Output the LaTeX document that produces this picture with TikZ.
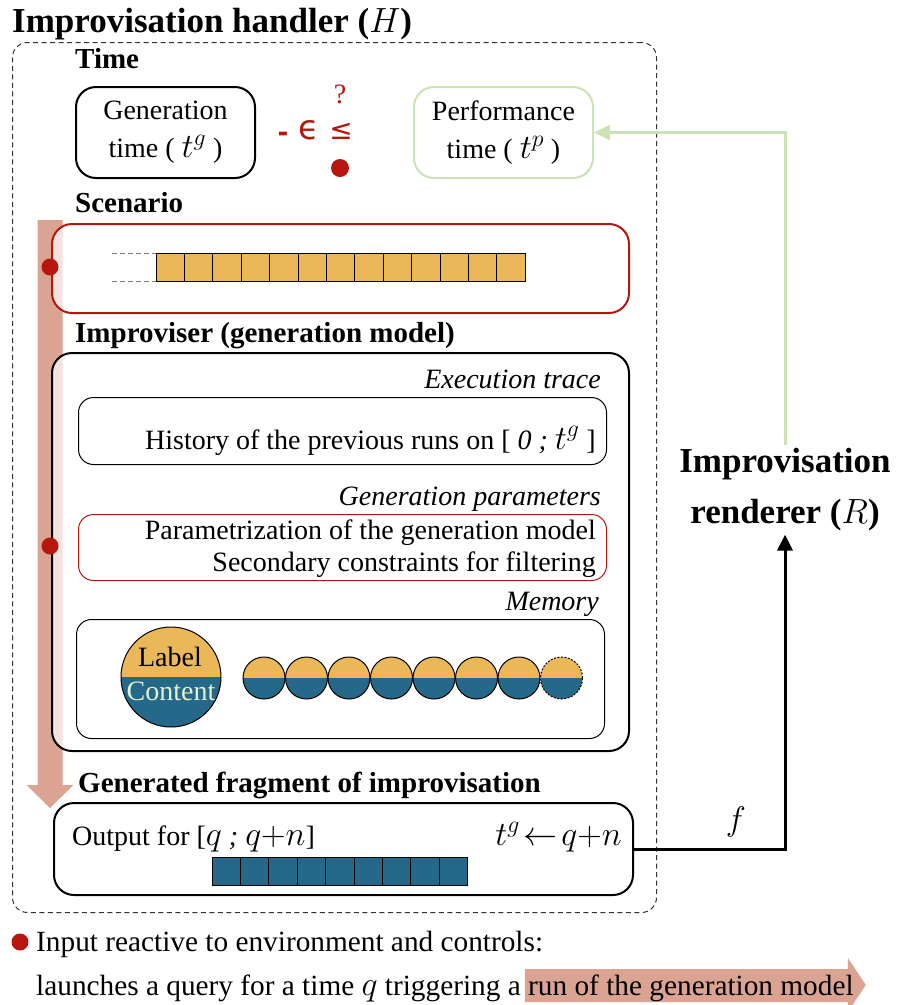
\RequirePackage{fix-cm}
\documentclass[tikz,border=0pt]{standalone}
\usepackage{amssymb}
\usepackage{fontspec}
\setmainfont{Liberation Serif}
\newfontfamily\symfont{DejaVu Sans}
\usetikzlibrary{arrows.meta}
\pgfdeclarelayer{background}
\pgfsetlayers{background,main}
\definecolor{myred}{HTML}{B5170E}
\definecolor{myorange}{HTML}{EAB859}
\definecolor{myblue}{HTML}{266889}
\definecolor{mypink}{HTML}{DBA492}
\definecolor{mygreen}{HTML}{CCE3B8}
\definecolor{mycream}{HTML}{E2F2CF}
\newcommand{\mathbig}[1]{{\fontsize{34}{38}\selectfont\(#1\)}}
\tikzset{
  body/.style={font=\fontsize{28}{38}\selectfont, inner sep=0pt},
  legend/.style={font=\fontsize{29.3}{38}\selectfont, inner sep=0pt, anchor=base west},
  sectlabel/.style={font=\fontsize{29}{34}\selectfont\bfseries, inner sep=0pt, anchor=base west},
  boxlabel/.style={font=\fontsize{28}{34}\selectfont\itshape, inner sep=0pt, anchor=base east},
  bigtitle/.style={font=\fontsize{35}{51}\selectfont\bfseries, inner sep=0pt},
  thickbox/.style={draw, line width=2pt, rounded corners=20pt, anchor=north west, inner sep=0pt},
  thinbox/.style={draw, line width=1pt, rounded corners=15pt, anchor=north west, inner sep=0pt},
  reddot/.style={fill=myred, circle, inner sep=0pt, minimum size=17pt},
  redsym/.style={text=myred, inner sep=0pt},
  cellorange/.style={draw, line width=0.8pt, fill=myorange},
  cellblue/.style={draw, line width=0.8pt, fill=myblue},
  halfcirc/.style={circle, draw, line width=1pt, inner sep=0pt,
    path picture={
      \fill[myorange] (path picture bounding box.north west) rectangle (path picture bounding box.east);
      \fill[myblue] (path picture bounding box.west) rectangle (path picture bounding box.south east);
    }},
}
\begin{document}
\begin{tikzpicture}[x=1pt,y=-1pt]
\useasboundingbox (0,0) rectangle (898,1005);

% big pink arrow (run of the generation model)
\begin{pgfonlayer}{background}
\fill[mypink] (37.5,220) -- (62.5,220) -- (62.5,785) -- (73.5,785) -- (50,808) -- (26.5,785) -- (37.5,785) -- cycle;
\end{pgfonlayer}

% title and handler frame
\node[bigtitle, anchor=base west] (title) at (12,32) {Improvisation handler (\(H\))};
\node[draw=black!80, line width=1pt, dash pattern=on 5pt off 3.5pt, rounded corners=15pt, anchor=north west, minimum width=644pt, minimum height=870pt, inner sep=0pt] (handler) at (12,42) {};

% Time
\node[sectlabel] (timelbl) at (75,68) {Time};
\node[thickbox, fill=white, minimum width=179pt, minimum height=91pt, align=center, body] (gen) at (75,86) {Generation\\time ( \mathbig{t^{g}} )};
\node[thickbox, draw=mygreen, fill=white, minimum width=179pt, minimum height=91pt, align=center, body] (perf) at (413,86) {Performance\\time ( \mathbig{t^{p}} )};
\node[redsym, font=\symfont\bfseries\fontsize{26}{30}\selectfont, anchor=base] (minus) at (283,141) {-};
\node[redsym, font=\symfont\fontsize{34}{40}\selectfont] (eps) at (309,130) {ϵ};
\node[redsym, font=\symfont\fontsize{28}{30}\selectfont] (leq) at (341,131) {≤};
\node[redsym, font=\fontsize{28}{30}\selectfont] (qmark) at (340,94) {?};
\node[reddot, minimum size=18pt] (timedot) at (340,168) {};

% Scenario
\node[sectlabel] (scenlbl) at (75,212) {Scenario};
\node[thickbox, draw=myred, fill=white, fill opacity=0.7, minimum width=577pt, minimum height=89pt] (scen) at (51,223) {};
\foreach \i in {0,...,12} {
  \draw[cellorange] ({156+28.4*\i},253) rectangle ++(28.4,28);
}
\draw[gray, line width=1pt, dash pattern=on 5pt off 3pt] (112,253) -- (156,253);
\draw[gray, line width=1pt, dash pattern=on 5pt off 3pt] (112,281) -- (156,281);
\node[reddot] (scendot) at (50,267) {};

% Improviser
\node[sectlabel] (implbl) at (75,342) {Improviser (generation model)};
\node[thickbox, fill=white, fill opacity=0.7, minimum width=577pt, minimum height=398pt] (imp) at (51,352) {};

\node[boxlabel] (exlbl) at (601,388) {Execution trace};
\node[thinbox, minimum width=528pt, minimum height=67pt] (hist) at (78,397) {};
\node[body, anchor=base east] (histtxt) at (596,449) {History of the previous runs on [ \textit{0 ;} \mathbig{t^{g}} ]};

\node[boxlabel] (gplbl) at (601,505) {Generation parameters};
\node[thinbox, draw=myred, minimum width=528pt, minimum height=66pt] (params) at (78,514) {};
\node[body, anchor=base east] (p1) at (596,539) {Parametrization of the generation model};
\node[body, anchor=base east] (p2) at (596,571) {Secondary constraints for filtering};
\node[reddot] (pardot) at (50,546) {};

\node[boxlabel] (memlbl) at (599,610) {Memory};
\node[thinbox, minimum width=528pt, minimum height=119pt] (mem) at (76,619) {};
\node[halfcirc, minimum size=100pt] (bigc) at (171,677) {};
\node[body] (lbl) at (170,657) {Label};
\node[body, text=mycream] (cont) at (171,691) {Content};
\foreach \i in {0,...,6} {
  \node[halfcirc, minimum size=42pt] (m\i) at ({264+42.5*\i},678) {};
}
\node[halfcirc, minimum size=42pt, dash pattern=on 2pt off 1.5pt] (m7) at ({264+42.5*7},678) {};

% Generated fragment
\node[sectlabel] (genlbl) at (78,792) {Generated fragment of improvisation};
\node[thickbox, fill=white, minimum width=579pt, minimum height=92pt] (out) at (53,802) {};
\node[body, anchor=base west] (outtxt) at (72,845) {Output for [\mathbig{q} \textit{;} \mathbig{q{+}n}]};
\node[body, anchor=base east] (tgq) at (622,845) {\mathbig{t^{g}\!\leftarrow\! q{+}n}};
\foreach \i in {0,...,8} {
  \draw[cellblue] ({212+28.4*\i},857) rectangle ++(28.4,28);
}

% Renderer
\node[bigtitle, align=center, inner sep=3pt] (rend) at (785,490) {Improvisation\\renderer (\(R\))};
\draw[mygreen, line width=3pt, -{Triangle[length=16pt,width=15pt]}] (rend.north) |- (perf.east);
\draw[line width=3pt, -{Triangle[length=16pt,width=15pt]}] (out.east) -| (rend.south);
\node[font=\fontsize{34}{36}\selectfont, inner sep=0pt] (flbl) at (736,822) {\(f\)};

% Legend
\node[reddot] (legdot) at (20,942) {};
\node[legend] (leg1) at (36,951) {Input reactive to environment and controls:};
\node[legend] (leg2a) at (36,995) {launches a query for a time \mathbig{q} triggering a};
\node[legend, xshift=7pt] (leg2b) at (leg2a.base east) {run of the generation model};
\coordinate (ytop) at (0,969);
\coordinate (ybot) at (0,1002);
\coordinate (yhtop) at (0,958);
\coordinate (yhbot) at (0,1012);
\coordinate (ymid) at (0,985);
\coordinate (hl) at ([xshift=-3pt]leg2b.base west);
\coordinate (hr) at ([xshift=-6pt]leg2b.base east);
\coordinate (ht) at ([xshift=12pt]leg2b.base east);
\begin{pgfonlayer}{background}
\fill[mypink] (hl |- ytop) -- (hr |- ytop) -- (hr |- yhtop) -- (ht |- ymid) -- (hr |- yhbot) -- (hr |- ybot) -- (hl |- ybot) -- cycle;
\end{pgfonlayer}
\end{tikzpicture}
\end{document}
